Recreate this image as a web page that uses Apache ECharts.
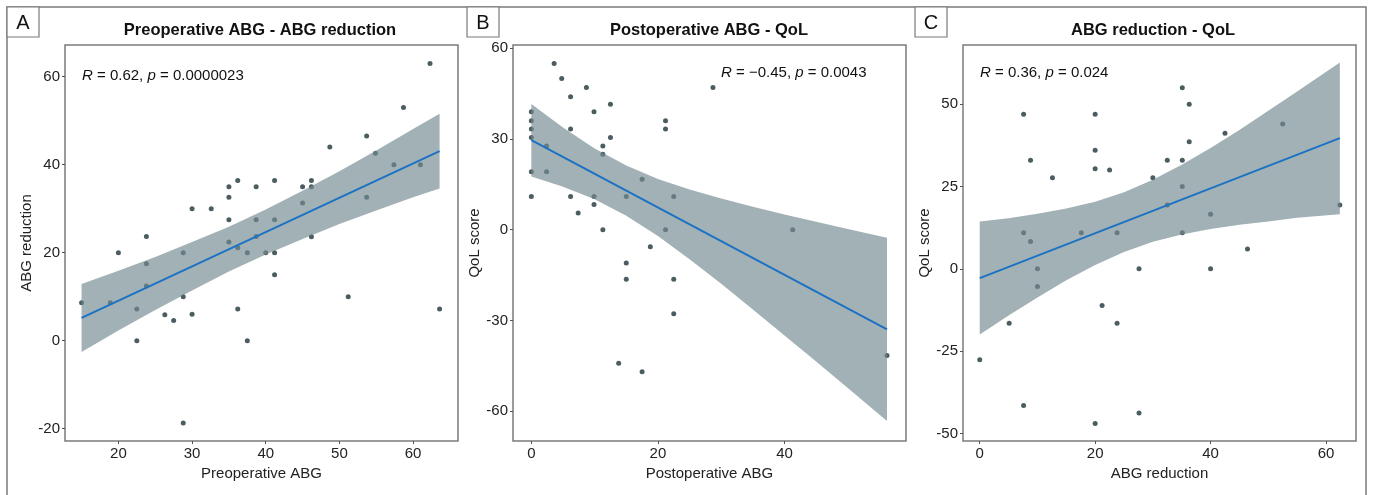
<!DOCTYPE html>
<html>
<head>
<meta charset="utf-8">
<title>ABG correlations</title>
<script src="https://cdn.jsdelivr.net/npm/echarts@6/dist/echarts.min.js"></script>
<style>
  html, body { margin: 0; padding: 0; background: #fff; }
  #chart { width: 1373px; height: 495px; }
</style>
</head>
<body>
<div id="chart"></div>
<script>
// panel A: Preoperative ABG vs ABG reduction
var aX = [15, 18.9, 20, 22.5, 22.5, 23.8, 23.8, 23.8, 26.3, 27.5, 28.8, 28.8, 28.8, 30, 30, 32.6, 35, 35, 35, 35, 36.2, 36.2, 36.2, 37.5, 37.5, 38.7, 38.7, 38.7, 40, 41.2, 41.2, 41.2, 41.2, 45, 45, 46.2, 46.2, 46.2, 48.7, 51.2, 53.7, 53.7, 54.9, 57.4, 58.7, 61, 62.3, 63.6];
var aY = [8.6, 8.6, 20, 7.2, 0, 23.7, 17.5, 12.4, 5.9, 4.6, 20, 10, -18.7, 30, 6, 30, 35, 32.6, 27.5, 22.4, 36.4, 21.1, 7.2, 20, 0, 35, 27.5, 23.7, 20, 36.4, 27.5, 20, 15, 35, 31.3, 36.4, 35, 23.6, 44, 10, 46.5, 32.6, 42.6, 40, 53, 40, 63, 7.2];
var aFitX = [15, 63.6];
var aFitY = [5.2, 43.1];
var aBandX = [15, 20, 25, 30, 35, 40, 45, 50, 55, 60, 63.6];
var aBandLo = [-2.6, 2.3, 7.0, 11.4, 15.7, 19.6, 23.1, 26.5, 29.6, 32.6, 34.6];
var aBandHi = [12.9, 15.9, 19.0, 22.4, 25.9, 29.8, 34.1, 38.5, 43.2, 48.1, 51.6];
var aXTicks = [20, 30, 40, 50, 60];
var aYTicks = [-20, 0, 20, 40, 60];

// panel B: Postoperative ABG vs QoL
var bX = [0, 0, 0, 0, 0, 0, 2.4, 2.4, 3.6, 4.8, 6.2, 6.2, 6.2, 7.4, 8.7, 9.9, 9.9, 9.9, 11.3, 11.3, 11.3, 12.5, 12.5, 13.8, 15, 15, 15, 17.5, 17.5, 18.8, 21.2, 21.2, 21.2, 22.5, 22.5, 22.5, 28.7, 41.3, 56.2];
var bY = [39, 36, 33.3, 30.5, 19.2, 11, 27.7, 19.2, 55, 50, 44, 33.3, 11, 5.5, 47, 39, 11, 8.3, 27.7, 25, 0, 41.5, 30.5, -44.2, 11, -11, -16.4, 16.7, -47, -5.6, 36, 33.3, 0, 11, -16.4, -27.8, 47, 0, -41.6];
var bFitX = [0, 56.2];
var bFitY = [29.6, -33];
var bBandX = [0, 5, 10, 15, 20, 25, 30, 35, 40, 45, 50, 56.2];
var bBandLo = [17.6, 14.2, 10.1, 4.6, -2.1, -9.8, -17.9, -26.4, -35.0, -43.6, -52.4, -63.3];
var bBandHi = [41.6, 33.8, 26.9, 21.2, 16.8, 13.3, 10.3, 7.6, 5.0, 2.6, 0.2, -2.7];
var bXTicks = [0, 20, 40];
var bYTicks = [-60, -30, 0, 30, 60];

// panel C: ABG reduction vs QoL
var cX = [0, 5.1, 7.6, 7.6, 7.6, 8.8, 8.8, 10, 10, 12.6, 17.6, 20, 20, 20, 20, 21.2, 22.5, 23.8, 23.8, 27.6, 27.6, 30, 32.5, 32.5, 35.1, 35.1, 35.1, 35.1, 36.3, 36.3, 40, 40, 42.5, 46.4, 52.5, 62.4];
var cY = [-27.6, -16.5, 47, 11, -41.5, 33, 8.3, 0, -5.4, 27.7, 11, 47, 36, 30.4, -47, -11.1, 30, 11, -16.5, 0, -43.8, 27.7, 33, 19.4, 55, 33, 25, 11, 50, 38.6, 16.6, 0, 41.2, 6, 44, 19.4];
var cFitX = [0, 62.4];
var cFitY = [-2.8, 39.7];
var cBandX = [0, 5, 10, 15, 20, 25, 30, 35, 40, 45, 50, 55, 62.4];
var cBandLo = [-19.95, -14.2, -8.7, -3.45, 1.2, 5.1, 8.2, 10.4, 12.1, 13.4, 14.4, 15.5, 16.6];
var cBandHi = [14.35, 15.4, 16.7, 18.3, 20.4, 23.3, 27.1, 31.6, 36.7, 42.2, 48.0, 53.9, 62.7];
var cXTicks = [0, 20, 40, 60];
var cYTicks = [-50, -25, 0, 25, 50];

var FONT = '"Liberation Sans", Arial, sans-serif';
var DOT = '#1e3538';
var BAND = 'rgba(117,138,145,0.67)';
var FIT = '#1b72c4';

function pairs(xs, ys) {
    return xs.map(function(x, i) { return [x, ys[i]]; });
}

function bandItem(xs, lo, hi) {
    return function(params, api) {
        if (params.dataIndex !== 0) return null;
        var pts = [];
        for (var i = 0; i < xs.length; i++) pts.push(api.coord([xs[i], hi[i]]));
        for (var j = xs.length - 1; j >= 0; j--) pts.push(api.coord([xs[j], lo[j]]));
        return { type: 'polygon', shape: { points: pts }, style: { fill: BAND } };
    };
}

var panels = [
    { left: 65, xMin: 12.75, xMax: 66.1, yMin: -22.8, yMax: 67.2, xTicks: aXTicks, yTicks: aYTicks,
      xName: 'Preoperative ABG', yName: 'ABG reduction',
      x: aX, y: aY, fitX: aFitX, fitY: aFitY, bx: aBandX, lo: aBandLo, hi: aBandHi },
    { left: 513, xMin: -2.9, xMax: 59.2, yMin: -69.9, yMax: 61.1, xTicks: bXTicks, yTicks: bYTicks,
      xName: 'Postoperative ABG', yName: 'QoL score',
      x: bX, y: bY, fitX: bFitX, fitY: bFitY, bx: bBandX, lo: bBandLo, hi: bBandHi },
    { left: 963, xMin: -2.9, xMax: 65.2, yMin: -52.3, yMax: 68, xTicks: cXTicks, yTicks: cYTicks,
      xName: 'ABG reduction', yName: 'QoL score',
      x: cX, y: cY, fitX: cFitX, fitY: cFitY, bx: cBandX, lo: cBandLo, hi: cBandHi }
];

var grids = [], xAxes = [], yAxes = [], series = [];
panels.forEach(function(p, i) {
    grids.push({ left: p.left, top: 45, width: 393, height: 396, show: true,
        borderColor: '#7b7b7b', borderWidth: 1.5, backgroundColor: 'transparent' });
    xAxes.push({ gridIndex: i, type: 'value', min: p.xMin, max: p.xMax,
        splitLine: { show: false }, axisLine: { show: false, onZero: false },
        axisTick: { show: true, length: 3, customValues: p.xTicks, lineStyle: { color: '#555' } },
        axisLabel: { customValues: p.xTicks, color: '#222', fontSize: 15, fontFamily: FONT, margin: 5 },
        name: p.xName, nameLocation: 'middle', nameGap: 24,
        nameTextStyle: { color: '#222', fontSize: 15, fontFamily: FONT } });
    yAxes.push({ gridIndex: i, type: 'value', min: p.yMin, max: p.yMax,
        splitLine: { show: false }, axisLine: { show: false, onZero: false },
        axisTick: { show: true, length: 3, customValues: p.yTicks, lineStyle: { color: '#555' } },
        axisLabel: { customValues: p.yTicks, color: '#222', fontSize: 15, fontFamily: FONT, margin: 5 },
        name: p.yName, nameLocation: 'middle', nameGap: 31,
        nameTextStyle: { color: '#222', fontSize: 15, fontFamily: FONT } });
    series.push({ type: 'scatter', xAxisIndex: i, yAxisIndex: i, data: pairs(p.x, p.y),
        symbolSize: 5, itemStyle: { color: DOT }, silent: true, z: 2 });
    series.push({ type: 'custom', xAxisIndex: i, yAxisIndex: i,
        data: p.bx.map(function(x, k) { return [x, p.lo[k], p.hi[k]]; }),
        encode: { x: 0, y: [1, 2] }, renderItem: bandItem(p.bx, p.lo, p.hi), silent: true, z: 3 });
    series.push({ type: 'line', xAxisIndex: i, yAxisIndex: i, data: pairs(p.fitX, p.fitY),
        symbol: 'none', lineStyle: { color: FIT, width: 2 }, silent: true, z: 4 });
});

function label(x, letter) {
    return [
        { type: 'rect', shape: { x: x, y: 7, width: 32, height: 30 },
          style: { fill: '#fff', stroke: '#7b7b7b', lineWidth: 1.2 } },
        { type: 'text', x: x + 16, y: 23, style: { text: letter, fill: '#111',
          font: '20px ' + FONT, textAlign: 'center', textVerticalAlign: 'middle' } }
    ];
}

function title(x, text) {
    return { type: 'text', x: x, y: 30, style: { text: text, fill: '#111',
        font: 'bold 16.5px ' + FONT, textAlign: 'center', textVerticalAlign: 'middle' } };
}

function stat(x, y, text) {
    return { type: 'text', x: x, y: y, style: { text: text, fill: '#111',
        font: '15px ' + FONT, textVerticalAlign: 'middle',
        rich: { i: { fontStyle: 'italic', fontSize: 15, fontFamily: FONT, fill: '#111' } } } };
}

var graphics = [
    { type: 'rect', shape: { x: 7, y: 7, width: 1359, height: 520 },
      style: { fill: 'none', stroke: '#7b7b7b', lineWidth: 1.5 } }
].concat(label(7, 'A'), label(467, 'B'), label(915, 'C'), [
    title(260, 'Preoperative ABG - ABG reduction'),
    title(709, 'Postoperative ABG - QoL'),
    title(1153, 'ABG reduction - QoL'),
    stat(82, 76, '{i|R} = 0.62, {i|p} = 0.0000023'),
    stat(721, 73, '{i|R} = \u22120.45, {i|p} = 0.0043'),
    stat(980, 73, '{i|R} = 0.36, {i|p} = 0.024')
]);

var myChart = echarts.init(document.getElementById('chart'), null, { renderer: 'canvas' });
myChart.setOption({
    animation: false,
    backgroundColor: '#fff',
    textStyle: { fontFamily: FONT },
    grid: grids,
    xAxis: xAxes,
    yAxis: yAxes,
    series: series,
    graphic: graphics
});
</script>
</body>
</html>
